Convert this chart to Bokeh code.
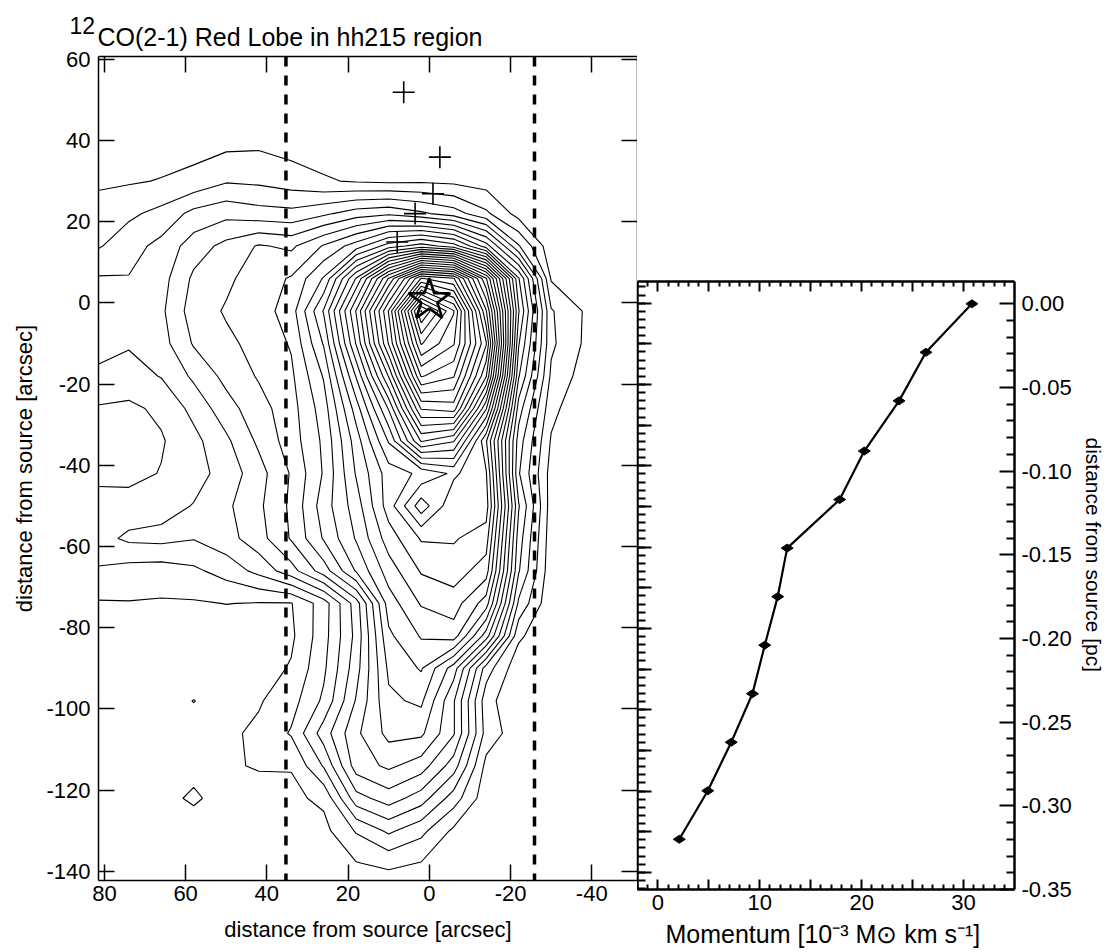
import numpy as np
from bokeh.plotting import figure
from bokeh.layouts import row
from bokeh.models import Range1d, LinearAxis, FixedTicker, Span, Title
from bokeh.embed import file_html
from bokeh.resources import INLINE

FONT = "Liberation Sans"

# ---------------- left panel: integrated 12CO(2-1) red-lobe map (contour level)
map_x = [82, 74, 66, 58, 50, 42, 34, 26, 18, 10, 2, -6, -14, -22, -30, -38, -46, -54]
map_y = [62, 54, 46, 38, 30, 22, 14, 6, -2, -10, -18, -26, -34, -42, -50, -58, -66, -74,
         -82, -90, -98, -106, -114, -122, -130, -138, -146]
map_level = [
    [0, 0, 0, 0, 0, 0, 0, 0, 0, 0, 0, 0, 0, 0, 0, 0, 0, 0],
    [0, 0, 0, 0, 0, 0, 0, 0, 0, 0, 0, 0, 0, 0, 0, 0, 0, 0],
    [0, 0, 0.1, 0.2, 0.3, 0.3, 0.2, 0.2, 0.1, 0.1, 0.1, 0.1, 0, 0, 0, 0, 0, 0],
    [0.3, 0.4, 0.6, 0.7, 0.9, 0.95, 0.7, 0.6, 0.5, 0.45, 0.45, 0.35, 0.2, 0.05, 0, 0, 0, 0],
    [0.85, 0.9, 1.05, 1.3, 1.9, 1.8, 1.5, 1.1, 0.9, 0.8, 0.85, 0.75, 0.55, 0.25, 0, 0, 0, 0],
    [1.35, 1.8, 2.3, 3.3, 3.7, 3.4, 3.3, 3.8, 4.5, 4.8, 4.2, 3.5, 2.2, 0.6, 0.1, 0, 0, 0],
    [1.85, 2.6, 3.3, 4.5, 5.3, 6.1, 5.8, 7.1, 8.5, 10.5, 11.5, 10.5, 7.5, 3.1, 0.3, 0, 0, 0],
    [3.1, 3.05, 3.6, 5.2, 5.8, 6.5, 7.1, 9.1, 14.1, 20.1, 26.1, 25.1, 18.1, 8.1, 0.9, 0.3, 0, 0],
    [3.3, 3.3, 3.8, 5.5, 6.1, 6.5, 7.5, 11.1, 17.1, 24.1, 34.1, 30.1, 21.1, 9.1, 2.1, 0.95, 0, 0],
    [3.2, 3.1, 3.6, 5.1, 5.8, 6.3, 7.1, 10.1, 16.1, 23.1, 31.1, 29.1, 23.1, 8.1, 2.2, 0.9, 0, 0],
    [2.9, 2.6, 3.05, 4.2, 5.3, 6.1, 6.8, 9.1, 14.1, 20.1, 28.1, 27.1, 21.1, 7.1, 1.8, 0.6, 0, 0],
    [1.9, 1.8, 2.2, 3.3, 4.6, 5.6, 6.6, 8.5, 12.5, 17.1, 24.1, 24.5, 17.1, 5.5, 1.3, 0.2, 0, 0],
    [1.6, 1.5, 1.9, 2.7, 3.8, 5.2, 6.5, 8.2, 11.5, 15.1, 20.1, 19.1, 13.1, 4.5, 0.9, 0, 0, 0],
    [1.8, 1.7, 2.05, 2.6, 3.4, 4.6, 6.1, 8.1, 11.1, 13.5, 14.2, 15.2, 14.1, 4.1, 0.6, 0, 0, 0],
    [2.3, 2.4, 2.6, 3.05, 3.8, 4.8, 6.2, 8.5, 10.5, 13.5, 16.6, 14.2, 14.5, 5.1, 0.5, 0, 0, 0],
    [2.6, 3.2, 3.3, 3.05, 3.6, 4.6, 6.1, 8.1, 10.1, 12.5, 14.1, 14.1, 13.5, 4.5, 0.4, 0, 0, 0],
    [1.9, 1.6, 1.5, 1.8, 2.4, 3.3, 4.6, 6.5, 9.1, 11.5, 13.1, 13.5, 12.5, 4.1, 0.3, 0, 0, 0],
    [0.9, 0.95, 0.9, 0.9, 1.02, 0.95, 0.95, 2.5, 5.5, 10.5, 12.1, 12.5, 10.5, 2.8, 0.2, 0, 0, 0],
    [0.3, 0.3, 0.3, 0.3, 0.4, 0.5, 0.8, 2.6, 5.3, 9.8, 11.1, 11.5, 7.5, 1.2, 0.1, 0, 0, 0],
    [0.2, 0.2, 0.2, 0.2, 0.3, 0.5, 1.1, 2.8, 5.6, 9.2, 10.1, 7.5, 2.5, 0.3, 0, 0, 0, 0],
    [0.1, 0.2, 0.5, 1.03, 0.5, 0.9, 1.6, 3.2, 6.1, 8.8, 9.2, 6.1, 1.4, 0.1, 0, 0, 0, 0],
    [0.1, 0.3, 0.5, 0.45, 0.8, 1.2, 2.1, 4.5, 6.8, 8.3, 8.2, 6.1, 1.6, 0.4, 0, 0, 0, 0],
    [0.1, 0.3, 0.6, 0.7, 0.85, 1.1, 1.05, 3.1, 6.5, 7.2, 6.5, 4.5, 0.7, 0.1, 0, 0, 0, 0],
    [0.1, 0.3, 0.7, 1.15, 0.6, 0.5, 0.8, 1.2, 4.6, 5.5, 4.5, 2.5, 0.4, 0, 0, 0, 0, 0],
    [0, 0.2, 0.4, 0.5, 0.4, 0.3, 0.4, 0.7, 2.1, 3.2, 2.3, 0.8, 0.2, 0, 0, 0, 0, 0],
    [0, 0.1, 0.2, 0.3, 0.2, 0.2, 0.2, 0.4, 0.95, 1.25, 0.95, 0.4, 0.1, 0, 0, 0, 0, 0],
    [0, 0, 0, 0, 0, 0, 0, 0, 0, 0, 0, 0, 0, 0, 0, 0, 0, 0],
]
contour_levels = list(range(1, 35))

source_x = [0.0]
source_y = [0.7]
knot_x = [6.3, -2.6, -0.9, 3.5, 7.9]
knot_y = [51.9, 35.9, 26.9, 22.0, 15.0]
lobe_limits_x = [35.3, -25.9]

arc_x_ticks = [80, 60, 40, 20, 0, -20, -40]
arc_y_ticks = [60, 40, 20, 0, -20, -40, -60, -80, -100, -120, -140]

# ---------------- right panel: momentum along the lobe
momentum = [30.82, 26.31, 23.67, 20.26, 17.84, 12.69, 11.76, 10.49, 9.28, 7.20, 4.90, 2.10]
distance_pc = [0.000, -0.029, -0.058, -0.088, -0.117, -0.146, -0.175, -0.204, -0.233, -0.262, -0.291, -0.320]

mom_ticks = [0, 5, 10, 15, 20, 25, 30]
mom_tick_labels = ["0", "", "10", "", "20", "", "30"]
mom_minor = [v for v in range(-2, 36) if v % 5 != 0]
pc_ticks = [0.0, -0.05, -0.10, -0.15, -0.20, -0.25, -0.30, -0.35]
pc_tick_labels = ["0.00", "-0.05", "-0.10", "-0.15", "-0.20", "-0.25", "-0.30", "-0.35"]
pc_minor = [round(-0.01 * i, 2) for i in range(0, 36) if i % 5 != 0]
arc_side_ticks = list(range(0, -150, -10))
arc_side_minor = list(range(4, -146, -2))


def add_axis(fig, side, ticks, tick_in, minor=None, minor_in=0, tick_labels=None, lw=1.5, tw=1.5,
             range_name=None, standoff=6, size="22px"):
    kw = {}
    if range_name:
        kw["y_range_name"] = range_name
    ax = LinearAxis(ticker=FixedTicker(ticks=ticks, minor_ticks=minor or []), **kw)
    ax.axis_line_color = "black"
    ax.axis_line_width = lw
    ax.major_tick_line_color = "black"
    ax.major_tick_line_width = tw
    ax.major_tick_in = tick_in
    ax.major_tick_out = 0
    ax.minor_tick_out = 0
    if minor:
        ax.minor_tick_line_color = "black"
        ax.minor_tick_line_width = tw
        ax.minor_tick_in = minor_in
    else:
        ax.minor_tick_line_color = None
        ax.minor_tick_in = 0
    if tick_labels is not None:
        ax.major_label_overrides = {t: s for t, s in zip(ticks, tick_labels)}
        ax.major_label_text_font = FONT
        ax.major_label_text_font_size = size
        ax.major_label_text_color = "black"
        ax.major_label_standoff = standoff
    else:
        ax.major_label_text_font_size = "0px"
        ax.major_label_text_color = None
        ax.major_label_standoff = 0
    fig.add_layout(ax, side)
    return ax


def side_title(fig, text, side, offset, standoff, size="22px", align="left"):
    t = Title(text=text, align=align, offset=offset, standoff=standoff,
              text_font=FONT, text_font_size=size, text_font_style="normal", text_color="black")
    fig.add_layout(t, side)
    return t


# ================= left figure
left = figure(width=637, height=952, x_range=Range1d(81.45, -51.26), y_range=Range1d(-142.26, 60.69),
              output_backend="svg", toolbar_location=None, x_axis_location=None, y_axis_location=None,
              min_border_left=98, min_border_right=0, min_border_top=56, min_border_bottom=71)
left.frame_align = False
left.outline_line_color = None
left.background_fill_color = "white"
left.border_fill_color = "white"
for g in left.grid:
    g.visible = False

xs = np.array(map_x, dtype=float)[::-1]
ys = np.array(map_y, dtype=float)[::-1]
zz = np.array(map_level, dtype=float)[::-1, ::-1]
left.contour(xs, ys, zz, contour_levels, line_color="black", line_width=1.1)

for xv in lobe_limits_x:
    left.add_layout(Span(location=xv, dimension="height", line_color="black",
                         line_width=3.5, line_dash="10 9"))

left.scatter(knot_x, knot_y, marker="cross", size=22, line_color="black", line_width=1.6)
left.scatter(source_x, source_y, marker="star", size=44, fill_color=None,
             line_color="black", line_width=2.6)

ly = add_axis(left, "left", arc_y_ticks, 16, tick_labels=[str(v) for v in arc_y_ticks], standoff=8)
ly.axis_label = "distance from source [arcsec]"
ly.axis_label_text_font = FONT
ly.axis_label_text_font_size = "22px"
ly.axis_label_text_font_style = "normal"
ly.axis_label_text_color = "black"
ly.axis_label_standoff = 6
add_axis(left, "below", arc_x_ticks, 16, tick_labels=[str(v) for v in arc_x_ticks], standoff=5)
add_axis(left, "above", arc_x_ticks, 16)
add_axis(left, "right", arc_y_ticks, 16)

# title: main text next to the frame, raised isotope number outside it
main_title = side_title(left, "CO(2-1) Red Lobe in hh215 region", "above", -1, 12, size="25px")
left.title.text = "12"
left.title.align = "left"
left.title.offset = -29
left.title.text_font = FONT
left.title.text_font_size = "23px"
left.title.text_font_style = "normal"
left.title.text_color = "black"
try:
    left.title.standoff = -38
except Exception:
    left.title.text = ""
    main_title.text = "\u00b9\u00b2CO(2-1) Red Lobe in hh215 region"
    main_title.offset = -30

side_title(left, "distance from source [arcsec]", "below", 0, 22, size="22px", align="center")

# ================= right figure
right = figure(width=482, height=952, x_range=Range1d(-2, 35), y_range=Range1d(-0.35, 0.01332),
               output_backend="svg", toolbar_location=None, x_axis_location=None, y_axis_location=None,
               min_border_left=0, min_border_right=105, min_border_top=281, min_border_bottom=63)
right.frame_align = False
right.extra_y_ranges = {"arcsec": Range1d(-144.23, 5.34)}
right.outline_line_color = None
right.background_fill_color = "white"
right.border_fill_color = "white"
for g in right.grid:
    g.visible = False

right.line(momentum, distance_pc, line_color="black", line_width=2.2)
right.scatter(momentum, distance_pc, marker="diamond", size=12, angle=np.pi / 2,
              fill_color="black", line_color="black")

add_axis(right, "below", mom_ticks, 10, minor=mom_minor, minor_in=5, tick_labels=mom_tick_labels,
         lw=2.5, tw=2, standoff=5)
add_axis(right, "above", mom_ticks, 10, minor=mom_minor, minor_in=5, lw=2.5, tw=2)
add_axis(right, "right", pc_ticks, 15, minor=pc_minor, minor_in=8, tick_labels=pc_tick_labels,
         lw=2.5, tw=2, standoff=7)
add_axis(right, "left", arc_side_ticks, 14, minor=arc_side_minor, minor_in=8,
         lw=2.5, tw=2, range_name="arcsec")
side_title(right, "distance from source [pc]", "right", 156, 14, size="21px", align="left")
side_title(right, "Momentum [10\u207b\u00b3 M\u2299 km s\u207b\u00b9]", "below", 28, 10, size="25px")

layout = row(left, right)
open("out.html", "w").write(file_html(layout, INLINE))
